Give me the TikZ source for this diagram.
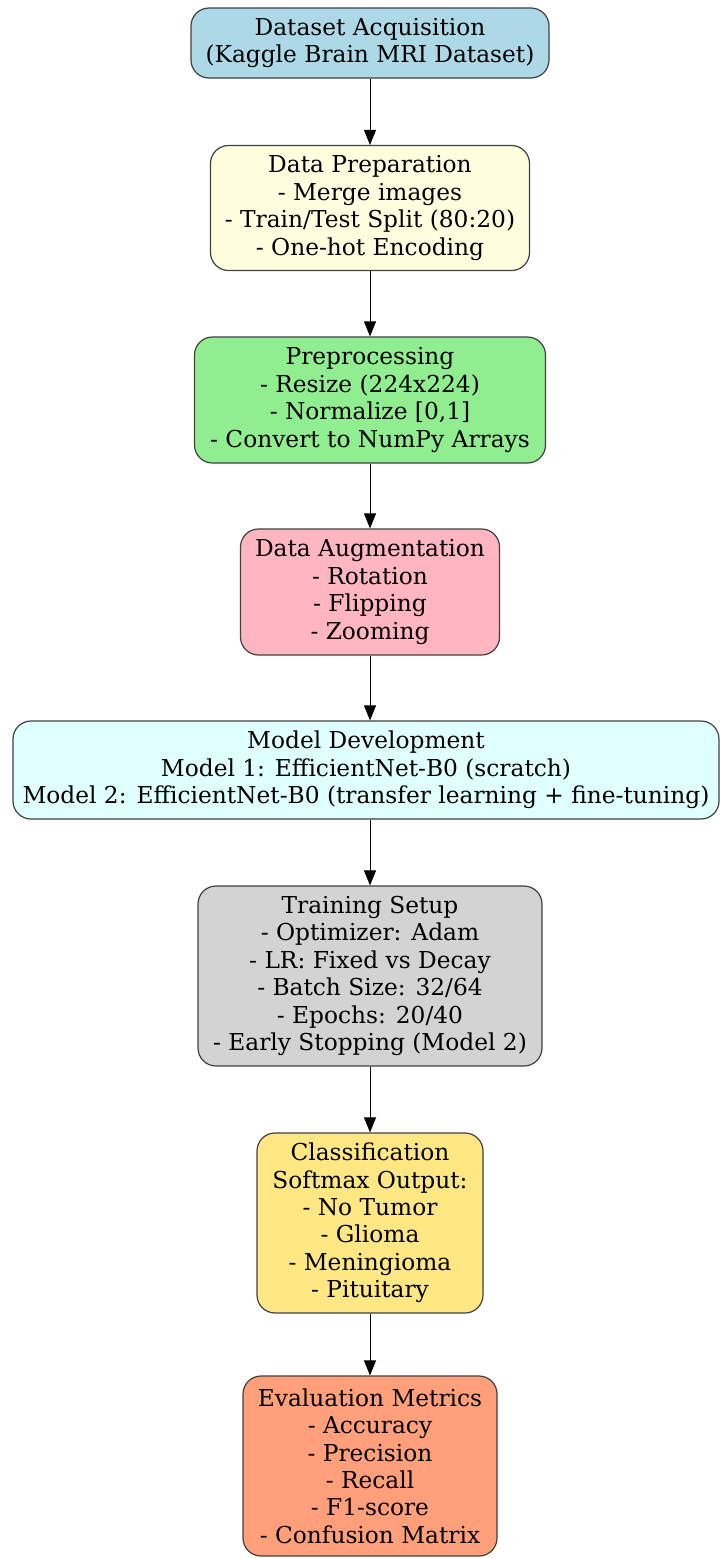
\documentclass[tikz,border=0pt]{standalone}
\usepackage{fontspec}
\setmainfont{DejaVu Serif}
\usetikzlibrary{arrows.meta}
\definecolor{cA}{HTML}{ADD8E6}
\definecolor{cB}{HTML}{FFFFE0}
\definecolor{cC}{HTML}{90EE90}
\definecolor{cD}{HTML}{FFB6C1}
\definecolor{cE}{HTML}{E0FFFF}
\definecolor{cF}{HTML}{D3D3D3}
\definecolor{cG}{HTML}{FFE884}
\definecolor{cH}{HTML}{FFA07A}
\definecolor{edge}{HTML}{404040}
\tikzset{
  stepbox/.style={draw=edge, line width=1.2pt, rounded corners=18pt, align=center,
    font=\fontsize{23.3}{27.4}\selectfont, inner sep=0pt, anchor=center},
  flow/.style={line width=1pt, -{Triangle[length=15pt,width=12pt]}}
}
\begin{document}
\begin{tikzpicture}[x=1pt,y=-1pt]
\useasboundingbox (0,0) rectangle (720,1558);
\node[stepbox, fill=cA, minimum width=358pt, minimum height=70pt] (a) at (370,43)
  {Dataset Acquisition\\(Kaggle Brain MRI Dataset)};
\node[stepbox, fill=cB, minimum width=319pt, minimum height=125pt] (b) at (370,208)
  {Data Preparation\\- Merge images\\- Train/Test Split (80:20)\\- One-hot Encoding};
\node[stepbox, fill=cC, minimum width=351pt, minimum height=126pt] (c) at (370,400)
  {Preprocessing\\- Resize (224x224)\\- Normalize [0,1]\\- Convert to NumPy Arrays};
\node[stepbox, fill=cD, minimum width=259pt, minimum height=126pt] (d) at (370,592)
  {Data Augmentation\\- Rotation\\- Flipping\\- Zooming};
\node[stepbox, fill=cE, minimum width=706pt, minimum height=98pt] (e) at (366,770)
  {Model Development\\Model 1: EfficientNet-B0 (scratch)\\Model 2: EfficientNet-B0 (transfer learning + fine-tuning)};
\node[stepbox, fill=cF, minimum width=344pt, minimum height=180pt] (f) at (370,976)
  {Training Setup\\- Optimizer: Adam\\- LR: Fixed vs Decay\\- Batch Size: 32/64\\- Epochs: 20/40\\- Early Stopping (Model 2)};
\node[stepbox, fill=cG, minimum width=226pt, minimum height=180pt] (g) at (370,1223)
  {Classification\\Softmax Output:\\- No Tumor\\- Glioma\\- Meningioma\\- Pituitary};
\node[stepbox, fill=cH, minimum width=254pt, minimum height=180pt] (h) at (370,1466)
  {Evaluation Metrics\\- Accuracy\\- Precision\\- Recall\\- F1-score\\- Confusion Matrix};
\draw[flow] (a) -- (b);
\draw[flow] (b) -- (c);
\draw[flow] (c) -- (d);
\draw[flow] (d) -- (e.north -| d.south);
\draw[flow] (e.south -| f.north) -- (f);
\draw[flow] (f) -- (g);
\draw[flow] (g) -- (h);
\end{tikzpicture}
\end{document}
